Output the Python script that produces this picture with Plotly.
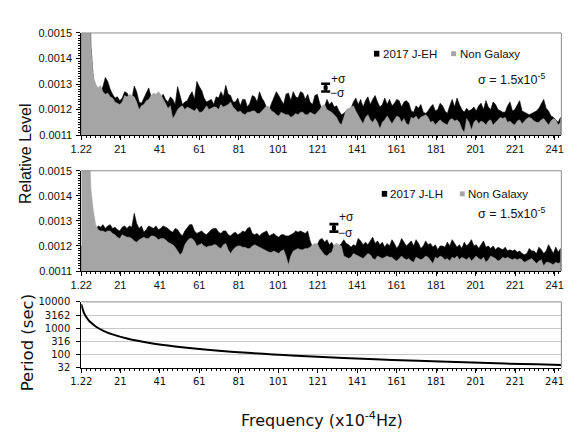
import plotly.graph_objects as go

# ---------------- data ----------------
# frequency grid (x10^-4 Hz): 200 bins of 1.22
freq = [round(1.22 * n, 2) for n in range(1, 201)]

# relative level in units of 1e-4
eh_2017 = [20, 20, 20, 20, 14.5, 13.2, 12.9, 12.8, 12.7, 12.9,
           13.26, 13.1, 12.8, 12.6, 12.45, 12.5, 12.35, 12.45, 12.7, 12.65,
           12.45, 12.4, 12.92, 12.7, 12.3, 12.25, 12.45, 12.6, 12.85, 12.5,
           12.6, 12.55, 12.5, 12.45, 12.6, 12.4, 12.3, 12.5, 12.4, 12.2,
           12.9, 12.5, 12.2, 12.3, 12.35, 12.55, 12.7, 12.4, 13.1, 12.9,
           12.75, 12.45, 12.3, 12.35, 12.4, 12.2, 12.5, 12.45, 12.7, 12.5,
           12.95, 12.6, 12.55, 12.3, 12.3, 12.45, 12.15, 12.4, 12.4, 12.1,
           12.25, 12.55, 12.5, 12.3, 12.7, 12.45, 12.3, 12.05, 12.0, 12.25,
           12.45, 12.7, 12.55, 12.35, 12.2, 12.6, 12.65, 12.35, 12.7, 12.5,
           12.45, 12.7, 12.65, 12.4, 12.6, 12.3, 12.2, 12.55, 12.6, 12.25,
           12.0, 12.1, 12.4, 12.2, 12.3, 12.1, 12.15, 11.95, 11.8, 11.85,
           11.95, 12.0, 12.05, 12.3, 12.45, 12.2, 12.4, 12.1, 12.35, 12.5,
           12.2, 12.4, 12.55, 12.3, 12.1, 12.2, 12.45, 12.2, 12.4, 12.15,
           12.25, 12.4, 12.35, 12.1, 12.3, 12.35, 12.25, 11.95, 11.9, 12.15,
           12.05, 12.2, 11.9, 11.85, 11.95, 12.1, 12.2, 11.95, 12.0, 12.25,
           12.15, 11.95, 11.85, 12.15, 12.4, 12.1, 12.45, 12.2, 12.0, 11.9,
           12.05, 11.95, 12.0, 12.1, 11.95, 12.15, 12.25, 12.0, 12.35, 12.1,
           12.0, 12.3, 12.2, 12.0, 11.95, 11.9, 11.9, 12.15, 12.3, 11.95,
           12.0, 12.2, 12.35, 11.95, 11.9, 11.85, 11.8, 11.85, 11.9, 11.95,
           12.05, 12.2, 12.4, 12.05, 11.95, 11.75, 11.7, 11.6, 11.5, 11.7]
non_galaxy_1 = [20, 20, 20, 20, 14.5, 13.3, 13.0, 12.85, 12.95, 12.7,
                12.6, 12.65, 12.5, 12.45, 12.3, 12.25, 12.2, 12.3, 12.55, 12.5,
                12.6, 12.55, 12.5, 12.3, 12.0, 12.15, 12.2, 12.35, 12.4, 12.55,
                12.65, 12.6, 12.7, 12.6, 12.4, 12.25, 12.05, 12.15, 11.65, 11.8,
                12.0, 12.1, 12.15, 12.0, 12.1, 12.05, 12.0, 11.95, 12.05, 11.9,
                11.9, 12.0, 12.15, 12.0, 12.05, 12.1, 12.1, 12.0, 12.2, 12.1,
                12.15, 12.2, 12.3, 12.1, 12.0, 11.9, 11.95, 11.85, 11.8, 11.9,
                11.9, 11.95, 11.95, 11.85, 11.85, 11.95, 12.05, 12.15, 12.1, 11.95,
                11.9, 11.8, 11.75, 11.9, 11.85, 11.8, 11.8, 11.7, 11.75, 11.85,
                11.8, 11.9, 11.9, 11.8, 11.8, 11.9, 11.85, 11.8, 11.9, 12.0,
                12.15, 12.2, 12.0, 11.95, 11.9, 11.8, 11.7, 11.5, 11.4, 11.7,
                12.0, 12.05, 12.1, 12.15, 11.95, 11.75, 11.6, 11.45, 11.7, 11.8,
                11.6, 11.5, 11.65, 11.5, 11.25, 11.5, 11.6, 11.75, 11.6, 11.45,
                11.6, 11.75, 11.7, 11.5, 11.65, 11.45, 11.4, 11.7, 11.65, 11.75,
                11.6, 11.7, 11.75, 11.8, 11.7, 11.5, 11.55, 11.4, 11.5, 11.6,
                11.5, 11.45, 11.4, 11.6, 11.65, 11.55, 11.6, 11.5, 11.25, 11.1,
                11.65, 11.5, 11.2, 11.5, 11.6, 11.45, 11.55, 11.5, 11.4, 11.55,
                11.6, 11.4, 11.5, 11.6, 11.7, 11.65, 11.7, 11.5, 11.55, 11.45,
                11.4, 11.55, 11.6, 11.45, 11.55, 11.65, 11.7, 11.65, 11.55, 11.5,
                11.5, 11.6, 11.65, 11.5, 11.4, 11.55, 11.65, 11.6, 11.4, 11.5]
lh_2017 = [12, 12, 12, 12, 12, 12, 12.6, 12.8, 12.75, 12.85,
           12.7, 12.8, 12.85, 12.7, 12.75, 12.65, 12.6, 12.75, 12.8, 12.7,
           12.8, 12.75, 13.3, 12.9, 12.7, 12.8, 12.55, 12.65, 12.8, 12.75,
           12.7, 12.8, 12.65, 12.7, 12.8, 12.75, 12.7, 12.6, 12.55, 12.7,
           12.65, 12.5, 12.4, 12.6, 12.75, 12.85, 12.85, 12.6, 12.5, 12.55,
           12.6, 12.5, 12.45, 12.55, 12.65, 12.7, 12.7, 12.55, 12.5, 12.6,
           12.6, 12.45, 12.4, 12.5, 12.55, 12.45, 12.5, 12.6, 12.55, 12.7,
           12.75, 12.5, 12.45, 12.5, 12.4, 12.5, 12.55, 12.6, 12.4, 12.45,
           12.5, 12.4, 12.35, 12.45, 12.45, 12.4, 12.4, 12.45, 12.5, 12.6,
           12.55, 12.6, 12.55, 12.5, 12.6, 12.2, 11.95, 11.9, 12.05, 12.25,
           12.3, 12.15, 12.25, 12.05, 12.15, 11.95, 11.9, 12.0, 12.1, 12.25,
           12.1, 12.05, 11.95, 12.05, 12.0, 12.3, 12.2, 12.05, 12.15, 12.05,
           12.2, 12.35, 12.1, 12.2, 12.05, 12.15, 11.95, 12.1, 12.0, 12.25,
           12.1, 11.9, 12.05, 12.3, 12.15, 12.0, 12.1, 12.2, 12.0, 12.25,
           12.1, 11.9, 12.0, 12.2, 12.05, 12.1, 11.95, 12.05, 11.85, 12.0,
           12.0, 11.95, 12.15, 12.0, 12.25, 12.1, 11.95, 12.05, 11.9, 12.15,
           12.0, 12.1, 12.25, 12.0, 12.05, 11.9, 12.05, 12.2, 11.95, 12.0,
           11.9, 12.0, 11.85, 11.95, 11.9, 11.85, 11.95, 11.8, 11.85, 11.8,
           11.85, 11.75, 11.8, 11.7, 11.65, 11.7, 11.9, 11.8, 11.8, 11.7,
           11.95, 11.85, 11.7, 11.8, 12.05, 11.85, 11.7, 11.95, 11.75, 11.9]
non_galaxy_2 = [20, 20, 20, 17, 14.3, 13.4, 12.85, 12.65, 12.6, 12.6,
                12.55, 12.6, 12.6, 12.5, 12.45, 12.35, 12.3, 12.45, 12.4, 12.35,
                12.35, 12.3, 12.2, 12.15, 12.25, 12.3, 12.35, 12.3, 12.3, 12.4,
                12.4, 12.35, 12.25, 12.3, 12.3, 12.25, 12.15, 12.1, 12.05, 11.95,
                11.8, 11.65, 11.75, 12.05, 12.2, 12.3, 12.3, 12.2, 12.0, 12.05,
                12.1, 12.0, 11.95, 12.0, 12.0, 12.05, 12.05, 11.95, 11.9, 12.05,
                12.1, 11.85, 11.7, 11.85, 11.95, 12.0, 12.0, 11.95, 11.95, 11.9,
                11.9, 12.0, 12.05, 12.0, 11.95, 11.9, 11.85, 11.8, 11.75, 11.75,
                11.8, 11.75, 11.7, 11.8, 11.85, 11.6, 11.25, 11.6, 11.8, 11.85,
                11.9, 11.85, 11.85, 11.9, 11.9, 11.95, 12.05, 12.1, 12.1, 11.9,
                11.75, 11.65, 11.6, 11.7, 11.75, 12.05, 12.1, 12.05, 12.0, 11.6,
                11.55, 11.5, 11.55, 11.7, 11.65, 11.6, 11.55, 11.5, 11.6, 11.7,
                11.65, 11.5, 11.45, 11.6, 11.55, 11.5, 11.55, 11.6, 11.55, 11.55,
                11.45, 11.4, 11.5, 11.6, 11.5, 11.45, 11.5, 11.4, 11.35, 11.55,
                11.5, 11.45, 11.5, 11.6, 11.55, 11.4, 11.3, 11.55, 11.5, 11.6,
                11.55, 11.45, 11.5, 11.4, 11.55, 11.5, 11.6, 11.45, 11.55, 11.5,
                11.45, 11.55, 11.4, 11.5, 11.6, 11.5, 11.45, 11.55, 11.35, 11.45,
                11.6, 11.55, 11.5, 11.4, 11.45, 11.55, 11.5, 11.55, 11.5, 11.45,
                11.5, 11.45, 11.5, 11.45, 11.35, 11.4, 11.45, 11.5, 11.4, 11.3,
                11.4, 11.45, 11.2, 11.35, 11.35, 11.3, 11.25, 11.35, 11.3, 11.35]

# period (sec)
period_freq = [1.22, 2.44, 3.66, 4.88, 6.1, 8.54, 12.2, 17.08, 24.4, 36.6,
               48.8, 61, 85.4, 109.8, 134.2, 158.6, 183, 207.4, 231.8, 244.4]
period_sec = [8197, 4098, 2732, 2049, 1639, 1171, 820, 585, 410, 273,
              205, 164, 117, 91, 75, 63, 55, 48, 43, 41]

x_ticks = [1.22, 21, 41, 61, 81, 101, 121, 141, 161, 181, 201, 221, 241]
x_ticktext = ["1.22", "21", "41", "61", "81", "101", "121", "141", "161",
              "181", "201", "221", "241"]
lvl_ticks = [0.0011, 0.0012, 0.0013, 0.0014, 0.0015]
lvl_ticktext = ["0.0011", "0.0012", "0.0013", "0.0014", "0.0015"]
per_ticks = [32, 100, 316, 1000, 3162, 10000]
per_ticktext = ["32", "100", "316", "1000", "3162", "10000"]

SIGMA = 1.5e-5
sigma_pts = {"top": (125.0, 0.001286), "mid": (129.2, 0.001272)}

UNIT = 1e-4
F0, F1 = 1.22, 244.4
BLACK = "#000000"
GREY = "#a5a5a5"
BORDER = "#8c8c8c"
ARIAL = "Liberation Sans, Arial, sans-serif"
VERDANA = "DejaVu Sans, Verdana, sans-serif"

W, H = 579, 448


def px(x):
    return x / W


def py(y):
    return 1 - y / H


fig = go.Figure()

panels = [("x", "y", eh_2017, non_galaxy_1), ("x2", "y2", lh_2017, non_galaxy_2)]
for xa, ya, blk, gry in panels:
    fig.add_trace(go.Scatter(x=freq, y=[v * UNIT for v in blk], xaxis=xa, yaxis=ya,
                             mode="lines", fill="tozeroy", fillcolor=BLACK,
                             line=dict(color=BLACK, width=0.6), showlegend=False,
                             hoverinfo="skip"))
    fig.add_trace(go.Scatter(x=freq, y=[v * UNIT for v in gry], xaxis=xa, yaxis=ya,
                             mode="lines", fill="tozeroy", fillcolor=GREY,
                             line=dict(color=GREY, width=0.5), showlegend=False,
                             hoverinfo="skip"))

for key, (xa, ya) in {"top": ("x", "y"), "mid": ("x2", "y2")}.items():
    fx, fy = sigma_pts[key]
    fig.add_trace(go.Scatter(x=[fx], y=[fy], xaxis=xa, yaxis=ya, mode="markers",
                             marker=dict(symbol="square", size=4, color=BLACK),
                             error_y=dict(type="constant", value=SIGMA, color=BLACK,
                                          thickness=2.6, width=4.5),
                             showlegend=False, hoverinfo="skip"))

fig.add_trace(go.Scatter(x=period_freq, y=period_sec, xaxis="x3", yaxis="y3",
                         mode="lines", line=dict(color=BLACK, width=2, shape="spline"),
                         showlegend=False, hoverinfo="skip"))

XD = [px(72), px(564)]
doms = {
    "1": [py(132.7), py(27.7)],
    "2": [py(272.3), py(169.3)],
    "3": [py(371.7), py(304)],
}


def xaxis_cfg(anchor, font):
    return dict(domain=XD, anchor=anchor, range=[F0, F1], tickmode="array",
                tickvals=x_ticks, ticktext=x_ticktext, showline=True,
                linecolor=BLACK, linewidth=1, ticks="outside", ticklen=4,
                tickcolor=BLACK, tickwidth=1, showgrid=False, zeroline=False,
                minor=dict(tick0=F0, dtick=2.44, ticks="outside", ticklen=2,
                           tickcolor=BLACK, showgrid=False),
                tickfont=font)


def lvl_axis(anchor, dom):
    return dict(domain=dom, anchor=anchor, range=[0.0011, 0.0015], tickmode="array",
                tickvals=lvl_ticks, ticktext=lvl_ticktext, showline=True,
                linecolor=BLACK, linewidth=1, ticks="outside", ticklen=4,
                tickcolor=BLACK, showgrid=False, zeroline=False,
                ticklabelstandoff=2,
                minor=dict(dtick=0.00001, tick0=0.0011, ticks="outside", ticklen=2,
                           tickcolor=BLACK, showgrid=False),
                tickfont=dict(family=ARIAL, size=11, color="#111"))


tick_arial = dict(family=ARIAL, size=11, color="#111")
tick_verdana = dict(family=VERDANA, size=10, color="#111")

fig.update_layout(
    width=W, height=H, margin=dict(l=0, r=0, t=0, b=0),
    paper_bgcolor="white", plot_bgcolor="white",
    xaxis=xaxis_cfg("y", tick_arial),
    xaxis2=xaxis_cfg("y2", tick_arial),
    xaxis3=xaxis_cfg("y3", tick_verdana),
    yaxis=lvl_axis("x", doms["1"]),
    yaxis2=lvl_axis("x2", doms["2"]),
    yaxis3=dict(domain=doms["3"], anchor="x3", type="log", range=[1.505, 4.0],
                tickmode="array", tickvals=per_ticks, ticktext=per_ticktext,
                showline=True, linecolor=BLACK, linewidth=1, ticks="outside",
                ticklen=4, tickcolor=BLACK, showgrid=True, gridcolor="#c8c8c8",
                gridwidth=1, zeroline=False, tickfont=tick_verdana,
                ticklabelstandoff=4),
)

shapes = []
for xr, yr in [("x domain", "y domain"), ("x2 domain", "y2 domain"), ("x3 domain", "y3 domain")]:
    shapes.append(dict(type="line", xref=xr, yref=yr, x0=0, x1=1, y0=1, y1=1,
                       line=dict(color=BORDER, width=1)))
    shapes.append(dict(type="line", xref=xr, yref=yr, x0=1, x1=1, y0=0, y1=1,
                       line=dict(color=BORDER, width=1)))

# legend swatches (pixel boxes)
for (x0, x1, y0, y1, c) in [(372, 377.5, 46, 52, BLACK), (451, 456, 46.5, 51.5, GREY),
                            (380, 385.5, 190, 196, BLACK), (460, 465, 190.5, 195.5, GREY)]:
    shapes.append(dict(type="rect", xref="paper", yref="paper", x0=px(x0), x1=px(x1),
                       y0=py(y1), y1=py(y0), fillcolor=c, line=dict(width=0)))
fig.update_layout(shapes=shapes)

ann = []


def text(x, y, s, size=11, family=ARIAL, xanchor="left", color="#111", angle=0):
    ann.append(dict(x=px(x), y=py(y), xref="paper", yref="paper", text=s,
                    showarrow=False, xanchor=xanchor, yanchor="middle",
                    font=dict(family=family, size=size, color=color),
                    textangle=angle))


# legends
text(379, 49, "2017 J-EH", size=11.5)
text(458, 49, "Non Galaxy", size=11.5)
text(386.5, 193, "2017 J-LH", size=11.5)
text(466, 193, "Non Galaxy", size=11.5)

# sigma notes
text(477, 75, "σ = 1.5x10<sup>-5</sup>", size=12.5)
text(477, 213, "σ = 1.5x10<sup>-5</sup>", size=12.5)
text(326, 74.5, "+σ", size=12)
text(325, 89.5, "−σ", size=12)
text(334.5, 216.5, "+σ", size=12)
text(333.5, 233, "−σ", size=12)

# axis titles
text(15.5, 152, "Relative Level", size=16, family=ARIAL, xanchor="center", angle=-90)
text(17, 346, "Period (sec)", size=16.5, family=VERDANA, xanchor="center", angle=-90)
text(319, 425, "Frequency (x10<sup>-4</sup>Hz)", size=16, family=VERDANA,
     xanchor="center")

fig.update_layout(annotations=ann)

fig.write_html("out.html")
